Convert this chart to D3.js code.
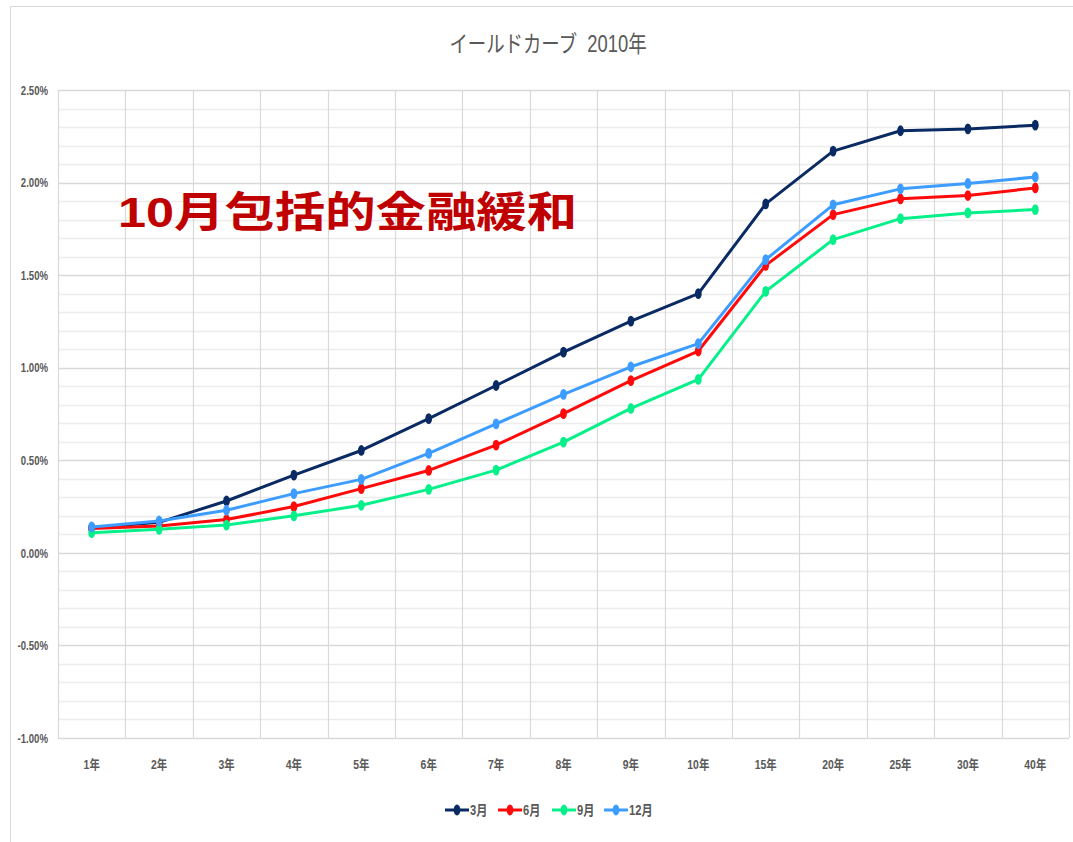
<!DOCTYPE html>
<html>
<head>
<meta charset="utf-8">
<script src="https://cdn.jsdelivr.net/npm/d3@7"></script>
<style>
  html, body { margin: 0; padding: 0; background: #fff; }
  svg { display: block; }
  text { font-family: "Liberation Sans Narrow", "Liberation Sans", "Noto Sans CJK JP", sans-serif; }
</style>
</head>
<body>
<svg id="chart" width="1073" height="842"></svg>
<script>
// Yield curve, 2010 (percent)
const maturities = ["1年","2年","3年","4年","5年","6年","7年","8年","9年","10年","15年","20年","25年","30年","40年"];
const seriesNames = ["3月","6月","9月","12月"];
const march     = [0.136, 0.165, 0.28, 0.42, 0.553, 0.725, 0.904, 1.084, 1.252, 1.400, 1.885, 2.170, 2.280, 2.290, 2.310];
const june      = [0.132, 0.145, 0.18, 0.25, 0.347, 0.445, 0.582, 0.752, 0.930, 1.090, 1.553, 1.827, 1.912, 1.930, 1.971];
const september = [0.109, 0.127, 0.15, 0.20, 0.257, 0.343, 0.447, 0.598, 0.780, 0.937, 1.412, 1.692, 1.805, 1.836, 1.854];
const december  = [0.140, 0.172, 0.23, 0.32, 0.397, 0.537, 0.697, 0.856, 1.005, 1.130, 1.584, 1.880, 1.966, 1.995, 2.030];
const seriesColors = ["#0a2a63", "#ff0a0a", "#06f08a", "#3d9cff"];
const yTicks = [-1.0, -0.5, 0.0, 0.5, 1.0, 1.5, 2.0, 2.5];
const titleText = "イールドカーブ\u00a0\u00a02010年";
const noteText = "10月包括的金融緩和";

const seriesValues = [march, june, september, december];

const svg = d3.select("#chart");
const plotLeft = 58, plotRight = 1069, plotTop = 90, plotBottom = 738;

// outer chart frame
svg.append("rect")
  .attr("x", 10.5).attr("y", 6.5).attr("width", 1100).attr("height", 900)
  .attr("fill", "#fff").attr("stroke", "#d9d9d9").attr("stroke-width", 1);

const x = d3.scaleBand().domain(maturities).range([plotLeft, plotRight]).padding(0);
const y = d3.scaleLinear().domain([-1.0, 2.5]).range([plotBottom, plotTop]);

// minor horizontal gridlines every 0.1%
const minor = d3.range(-10, 26).map(d => d / 10)
  .filter(v => Math.abs(v * 2 - Math.round(v * 2)) > 1e-6);
svg.append("g").selectAll("line").data(minor).join("line")
  .attr("x1", plotLeft).attr("x2", plotRight)
  .attr("y1", d => Math.round(y(d)) + 0.5).attr("y2", d => Math.round(y(d)) + 0.5)
  .attr("stroke", "#ececec").attr("stroke-width", 1.3);

// major horizontal gridlines
svg.append("g").selectAll("line").data(yTicks).join("line")
  .attr("x1", plotLeft).attr("x2", plotRight)
  .attr("y1", d => Math.round(y(d)) + 0.5).attr("y2", d => Math.round(y(d)) + 0.5)
  .attr("stroke", "#d9d9d9").attr("stroke-width", 1.5);

// vertical gridlines at category boundaries
const bounds = maturities.map(m => x(m)).concat([plotRight]);
svg.append("g").selectAll("line").data(bounds).join("line")
  .attr("x1", d => Math.round(d) + 0.5).attr("x2", d => Math.round(d) + 0.5)
  .attr("y1", plotTop).attr("y2", plotBottom)
  .attr("stroke", "#d9d9d9").attr("stroke-width", 1.2);

// y axis labels
const yAxis = d3.axisLeft(y).tickValues(yTicks).tickSize(0).tickPadding(0)
  .tickFormat(d => d.toFixed(2) + "%");
const gy = svg.append("g").attr("transform", `translate(${plotLeft - 10},0)`).call(yAxis);
gy.select(".domain").remove();
gy.selectAll("text")
  .attr("fill", "#595959").attr("font-size", 12).attr("font-weight", "bold")
  .attr("x", 0).attr("dy", "0.35em")
  .attr("transform", "scale(0.8,1)");

// x axis labels
const xAxis = d3.axisBottom(x).tickSize(0).tickPadding(0);
const gx = svg.append("g").attr("transform", `translate(0,${plotBottom + 22})`).call(xAxis);
gx.select(".domain").remove();
gx.selectAll("text")
  .attr("fill", "#595959").attr("font-size", 13).attr("font-weight", "bold")
  .attr("transform", "scale(0.8,1)");

// title
svg.append("text")
  .attr("transform", "translate(548,52) scale(0.8,1)")
  .attr("text-anchor", "middle")
  .attr("fill", "#595959").attr("font-size", 23)
  .text(titleText);

// series lines and markers
const line = d3.line()
  .x((d, i) => x(maturities[i]) + x.bandwidth() / 2)
  .y(d => y(d));
seriesValues.forEach((vals, si) => {
  const g = svg.append("g");
  g.append("path").datum(vals)
    .attr("d", line).attr("fill", "none")
    .attr("stroke", seriesColors[si]).attr("stroke-width", 3)
    .attr("stroke-linejoin", "round");
  g.selectAll("ellipse").data(vals).join("ellipse")
    .attr("cx", (d, i) => x(maturities[i]) + x.bandwidth() / 2)
    .attr("cy", d => y(d))
    .attr("rx", 3.4).attr("ry", 5.4)
    .attr("fill", seriesColors[si]);
});

// annotation
svg.append("text")
  .attr("transform", "translate(118,227) scale(1.2,1)")
  .attr("fill", "#c00000").attr("font-size", 42).attr("font-weight", "bold")
  .attr("font-family", "'Noto Sans CJK JP', sans-serif")
  .text(noteText);

// legend
const legendX = [445, 498, 552, 604];
const lg = svg.append("g");
seriesNames.forEach((name, i) => {
  const lx = legendX[i];
  lg.append("line").attr("x1", lx).attr("x2", lx + 24).attr("y1", 810).attr("y2", 810)
    .attr("stroke", seriesColors[i]).attr("stroke-width", 3);
  lg.append("ellipse").attr("cx", lx + 12).attr("cy", 810).attr("rx", 3.4).attr("ry", 5.4)
    .attr("fill", seriesColors[i]);
  lg.append("text").attr("transform", `translate(${lx + 25},815) scale(0.8,1)`)
    .attr("fill", "#595959").attr("font-size", 14).attr("font-weight", "bold")
    .text(name);
});
</script>
</body>
</html>
